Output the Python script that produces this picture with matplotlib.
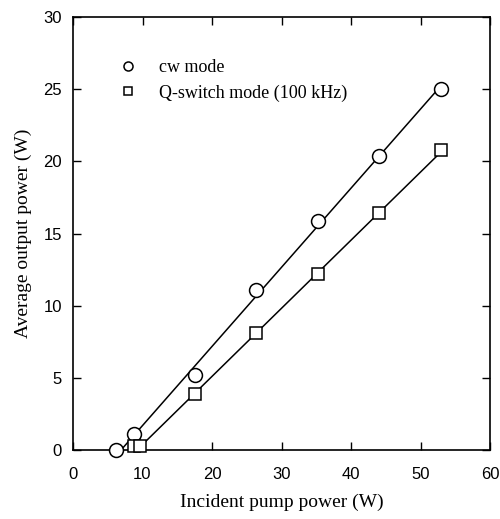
import matplotlib
matplotlib.use("Agg")
import matplotlib.pyplot as plt
import numpy as np

# data
pump_cw = [6.2, 8.8, 17.5, 26.3, 35.3, 44.1, 53.0]
power_cw = [0.0, 1.1, 5.2, 11.1, 15.9, 20.4, 25.0]

pump_q = [8.8, 9.7, 17.5, 26.3, 35.3, 44.1, 53.0]
power_q = [0.3, 0.3, 3.9, 8.1, 12.2, 16.4, 20.8]

x_ticks = [0, 10, 20, 30, 40, 50, 60]
y_ticks = [0, 5, 10, 15, 20, 25, 30]


def fit_line(x, y):
    # linear fit above threshold, drawn from x-intercept to last point
    x = np.array(x[1:])
    y = np.array(y[1:])
    slope, icpt = np.polyfit(x, y, 1)
    xs = np.array([-icpt / slope, x[-1]])
    return xs, slope * xs + icpt


fig = plt.figure(figsize=(5.0, 5.19), dpi=100)
ax = fig.add_axes([0.146, 0.133, 0.834, 0.834])

xc, yc = fit_line(pump_cw, power_cw)
xq, yq = fit_line(pump_q, power_q)
ax.plot(xc, yc, color="black", lw=1.1)
ax.plot(xq, yq, color="black", lw=1.1)

ax.plot(pump_cw, power_cw, "o", ms=10, mfc="white", mec="black", mew=1.1,
        label="cw mode", zorder=3, clip_on=False)
ax.plot(pump_q, power_q, "s", ms=8.5, mfc="white", mec="black", mew=1.1,
        label="Q-switch mode (100 kHz)", zorder=3, clip_on=False)

ax.set_xlim(0, 60)
ax.set_ylim(0, 30)
ax.set_xticks(x_ticks)
ax.set_yticks(y_ticks)
ax.tick_params(direction="in", top=True, right=True, length=6, width=1,
               labelsize=12, pad=8)
ax.tick_params(axis="x", pad=12)
for lab in ax.get_xticklabels() + ax.get_yticklabels():
    lab.set_family("Liberation Sans")
for s in ax.spines.values():
    s.set_linewidth(1.2)

ax.set_xlabel("Incident pump power (W)", family="Liberation Serif", fontsize=14,
              labelpad=9)
ax.set_ylabel("Average output power (W)", family="Liberation Serif", fontsize=14,
              labelpad=8)

leg = ax.legend(loc="upper left", bbox_to_anchor=(0.072, 0.94), frameon=False,
                prop={"family": "Liberation Serif", "size": 13},
                markerscale=0.65, handletextpad=1.2, labelspacing=0.45,
                handlelength=1.0)

fig.savefig("out.png", dpi=100)
